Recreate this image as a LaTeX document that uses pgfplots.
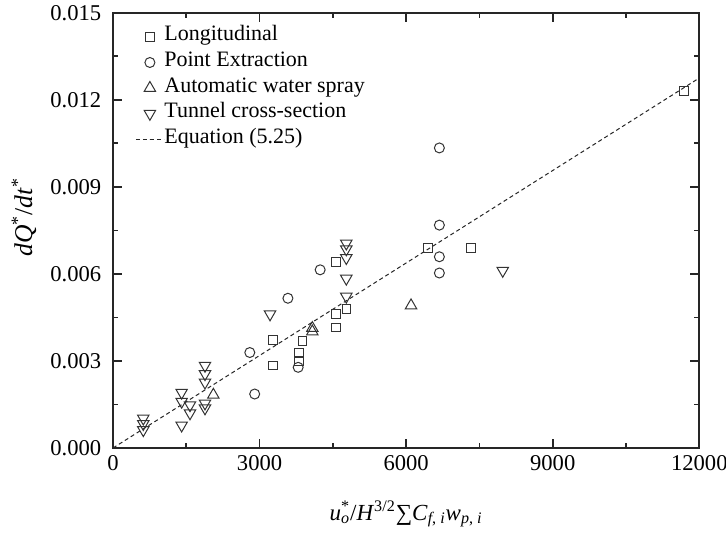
\documentclass[border=0pt]{standalone}
\usepackage{pgfplots}
\pgfplotsset{compat=1.18}
\usepackage{fontspec}
\setmainfont{Liberation Serif}
\begin{document}
\fontsize{11bp}{13bp}\selectfont
\begin{tikzpicture}
\path[use as bounding box] (-56.5bp,-44bp) rectangle (306.5bp,224bp);
\begin{axis}[
  at={(0,0)}, anchor=south west, scale only axis,
  width=293.15bp, height=217.65bp,
  xmin=0, xmax=12000, ymin=0, ymax=0.015,
  xtick={0,3000,6000,9000,12000},
  ytick={0,0.003,0.006,0.009,0.012,0.015},
  minor x tick num=1, minor y tick num=1,
  tick align=inside,
  major tick length=4.5bp, minor tick length=2.5bp,
  axis line style={line width=1bp, black!85},
  every tick/.style={line width=0.8bp, black!85},
  scaled x ticks=false, scaled y ticks=false,
  /pgf/number format/assume math mode=true,
  xticklabel style={/pgf/number format/.cd, fixed, 1000 sep={}},
  yticklabel style={xshift=-2bp, /pgf/number format/.cd, fixed, fixed zerofill, precision=3},
  ticklabel style={font=\fontsize{11.3bp}{13bp}\selectfont},
  xlabel={\textit{u}\rlap{\textsubscript{\textit{o}}}\textsuperscript{*}/\textit{H}\textsuperscript{3/2}∑\textit{C}\textsubscript{\textit{f}, \textit{i}}\textit{w}\textsubscript{\textit{p}, \textit{i}}},
  xlabel style={at={(axis description cs:0.5,0)}, anchor=base, yshift=-36bp, font=\fontsize{11.5bp}{13bp}\selectfont},
  ylabel={\textit{dQ}\textsuperscript{*}/\textit{dt}\textsuperscript{*}},
  ylabel style={at={(axis description cs:-0.152,0.53)}, anchor=center, font=\fontsize{12.8bp}{14bp}\selectfont},
  legend cell align=left,
  legend image code/.code={\draw[mark repeat=2,mark phase=2,#1] plot coordinates {(0bp,0bp) (7bp,0bp) (14bp,0bp)};},
  legend style={at={(axis description cs:0,1)}, anchor=north west, xshift=11bp, yshift=-5.5bp,
    draw=none, fill=none, inner sep=0pt, row sep=0pt,
    font=\fontsize{11bp}{13bp}\selectfont,
    nodes={inner sep=0pt, text height=8.4bp, text depth=4.4bp},
    /tikz/every even column/.append style={column sep=8bp}},
]
\addplot[only marks, mark=square, mark size=2.2bp, mark options={solid, draw=black!80, line width=0.5bp, fill=none}]
coordinates {(3270,0.00372) (3270,0.00284) (3880,0.00369) (3810,0.00329) (3810,0.00298) (4570,0.00640) (4570,0.00462) (4570,0.00415) (4780,0.00479) (6440,0.00690) (7335,0.00688) (11680,0.01231)};
\addlegendentry{Longitudinal}
\addplot[only marks, mark=o, mark size=2.5bp, mark options={solid, draw=black!80, line width=0.5bp, fill=none}]
coordinates {(4240,0.00614) (3580,0.00516) (2800,0.00329) (2900,0.00186) (3790,0.00278) (6680,0.01034) (6680,0.00768) (6680,0.00659) (6680,0.00603)};
\addlegendentry{Point Extraction}
\addplot[only marks, mark=triangle, mark size=3.3bp, mark options={solid, draw=black!80, line width=0.5bp, fill=none}]
coordinates {(2054,0.00183) (4080,0.00413) (4080,0.00401) (6100,0.00491)};
\addlegendentry{Automatic water spray}
\addplot[only marks, mark=triangle, mark size=3.3bp, mark options={solid, rotate=180, draw=black!80, line width=0.5bp, fill=none}]
coordinates {(620,0.00102) (620,0.00083) (620,0.00062) (1405,0.00191) (1405,0.00160) (1405,0.00078) (1576,0.00148) (1576,0.00120) (1883,0.00284) (1883,0.00255) (1883,0.00226) (1883,0.00154) (1883,0.00137) (3214,0.00461) (4775,0.00705) (4775,0.00685) (4775,0.00655) (4775,0.00584) (4775,0.00522) (7977,0.00611)};
\addlegendentry{Tunnel cross-section}
\addplot[black!85, line width=0.5bp, dash pattern=on 2bp off 1.5bp]
coordinates {(0,0) (12000,0.01275)};
\addlegendentry{Equation (5.25)}
\end{axis}
\end{tikzpicture}
\end{document}
